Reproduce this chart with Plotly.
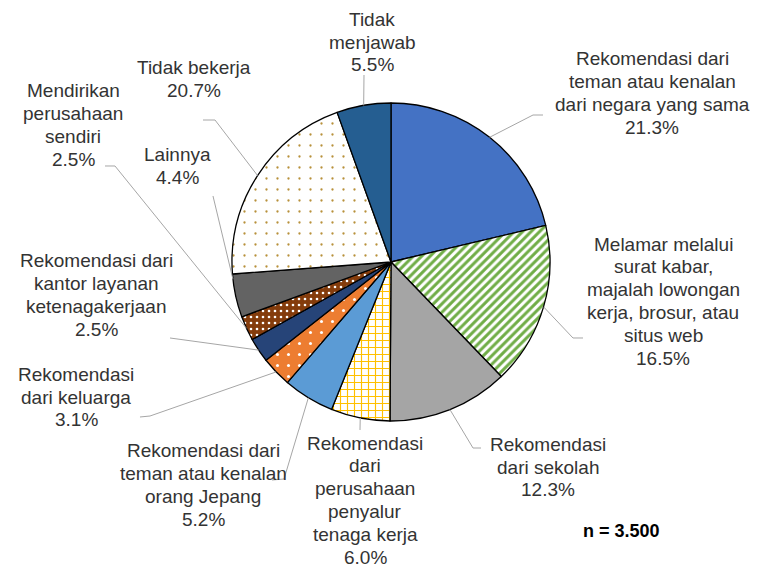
import math
import plotly.graph_objects as go

W, H = 759, 569

categories = [
    "Rekomendasi dari<br>teman atau kenalan<br>dari negara yang sama",
    "Melamar melalui<br>surat kabar,<br>majalah lowongan<br>kerja, brosur, atau<br>situs web",
    "Rekomendasi<br>dari sekolah",
    "Rekomendasi<br>dari<br>perusahaan<br>penyalur<br>tenaga kerja",
    "Rekomendasi dari<br>teman atau kenalan<br>orang Jepang",
    "Rekomendasi<br>dari keluarga",
    "Rekomendasi dari<br>kantor layanan<br>ketenagakerjaan",
    "Mendirikan<br>perusahaan<br>sendiri",
    "Lainnya",
    "Tidak bekerja",
    "Tidak<br>menjawab",
]
values = [21.3, 16.5, 12.3, 6.0, 5.2, 3.1, 2.5, 2.5, 4.4, 20.7, 5.5]
sample_note = "n = 3.500"

bg_colors = ["#4472C4", "#FFFFFF", "#A5A5A5", "#FFFFFF", "#5B9BD5", "#ED7D31",
             "#264478", "#843C0C", "#636363", "#FFFFFF", "#255E91"]
pat_shape = ["", "/", "", "+", "", ".", "", ".", "", ".", ""]
pat_fg = ["#000", "#70AD47", "#000", "#FFC000", "#000", "#FFFFFF",
          "#000", "#FFFFFF", "#000", "#B8913A", "#000"]
pat_size = [8, 6, 8, 7, 8, 11, 8, 6, 10, 11, 8]
pat_sol = [0.3, 0.5, 0.3, 0.3, 0.3, 0.06, 0.3, 0.15, 0.3, 0.035, 0.3]

# layout (pixels, as seen in the page; the page body adds an 8px offset)
OFF = 8
cx, cy, R = 391, 262, 159
FONT_SIZE = 19
LINE_GAP = 22.8
label_pos = [(652, 93), (663, 301), (548, 467), (365, 500), (203, 485), (76, 397),
             (96, 295), (73, 125), (177, 166), (194, 79), (372, 42)]
leader_pts = [
    [(533, 115), (543, 115)],
    [(573, 338), (583, 338)],
    [(473, 448), (481, 448)],
    [(360, 430)],
    [(284, 479), (272, 480)],
    [(150, 416), (140, 417)],
    [(170, 338)],
    [(115, 166), (105, 166)],
    [(213, 196)],
    [(215, 120), (203, 120)],
    [(364, 75)],
]
anchor_frac = [0.5, 0.5, 0.5, 0.5, 0.5, 0.5, 0.5, 0.5, 0.88, 0.5, 0.5]

px = lambda x: (x - OFF) / W
py = lambda y: 1 - (y - OFF) / H

fig = go.Figure(go.Pie(
    values=values,
    labels=[c.replace("<br>", " ") for c in categories],
    sort=False,
    direction="clockwise",
    rotation=0,
    textinfo="none",
    hoverinfo="label+percent",
    marker=dict(
        colors=bg_colors,
        line=dict(color="#000000", width=1.3),
        pattern=dict(shape=pat_shape, fgcolor=pat_fg, bgcolor=bg_colors,
                     size=pat_size, solidity=pat_sol, fillmode="overlay",
                     fgopacity=1),
    ),
    domain=dict(x=[px(cx - R), px(cx + R)], y=[py(cy + R), py(cy - R)]),
    showlegend=False,
))

font = dict(family="Liberation Sans, Arial, sans-serif", size=FONT_SIZE, color="#333333")

total = sum(values)
cum = 0.0
shapes = []
annotations = []
for i, v in enumerate(values):
    ang = 2 * math.pi * (cum + anchor_frac[i] * v) / total
    cum += v
    ex = cx + R * math.sin(ang)
    ey = cy - R * math.cos(ang)
    pts = [(ex, ey)] + leader_pts[i]
    path = "M " + " L ".join(f"{px(x):.5f},{py(y):.5f}" for x, y in pts)
    shapes.append(dict(type="path", path=path, xref="paper", yref="paper",
                       line=dict(color="#A6A6A6", width=1)))
    lines = categories[i].split("<br>") + [f"{v:.1f}%"]
    lx, ly = label_pos[i]
    n = len(lines)
    for k, t in enumerate(lines):
        yy = ly + (k - (n - 1) / 2) * LINE_GAP
        annotations.append(dict(
            text=t, x=px(lx), y=py(yy), xref="paper", yref="paper",
            xanchor="center", yanchor="middle", align="center",
            showarrow=False, font=font,
        ))

annotations.append(dict(
    text=f"<b>{sample_note}</b>", x=px(621), y=py(531), xref="paper", yref="paper",
    xanchor="center", yanchor="middle", showarrow=False,
    font=dict(family="Liberation Sans, Arial, sans-serif", size=18, color="#000000"),
))

fig.update_layout(
    width=W, height=H,
    margin=dict(l=0, r=0, t=0, b=0),
    paper_bgcolor="white", plot_bgcolor="white",
    shapes=shapes, annotations=annotations,
)

fig.write_html("out.html")
